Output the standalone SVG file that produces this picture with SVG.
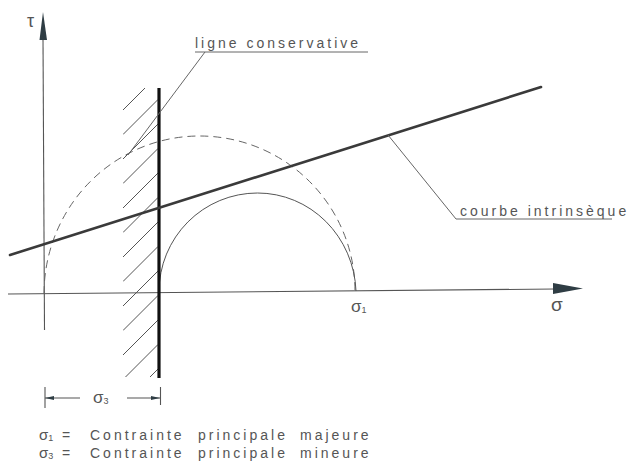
<svg xmlns="http://www.w3.org/2000/svg" width="636" height="464" viewBox="0 0 636 464">
<style>
  .ax{stroke:#555;stroke-width:1.1;fill:none}
  .hatch{stroke:#555;stroke-width:1;fill:none}
  .lead{stroke:#666;stroke-width:1;fill:none}
  .t{font-family:"Liberation Sans",Arial,sans-serif;font-size:14px;fill:#555;letter-spacing:3px}
  .g{font-family:"Liberation Sans",Arial,sans-serif;fill:#555}
  .head{fill:#2f3d44}
</style>
<defs>
  <clipPath id="hc"><rect x="123" y="88" width="35.5" height="289"/></clipPath>
</defs>
<rect width="636" height="464" fill="#fff"/>

<g id="axes">
  <line class="ax" x1="43" y1="38" x2="44.5" y2="330"/>
  <polygon class="head" points="43,12 39.5,40 47,40"/>
  <text class="g" x="27" y="27" font-size="18">τ</text>
  <line class="ax" x1="8" y1="294" x2="555" y2="289"/>
  <polygon class="head" points="553,283 583,288.5 553,294"/>
  <text class="g" x="551" y="311" font-size="19">σ</text>
  <text class="g" x="351" y="312" font-size="17">σ<tspan font-size="9" dy="1">1</tspan></text>
</g>

<g id="hatching" clip-path="url(#hc)">
  <line class="hatch" x1="123" y1="110" x2="158" y2="75"/>
  <line class="hatch" x1="123" y1="134.5" x2="158" y2="99.5"/>
  <line class="hatch" x1="123" y1="159" x2="158" y2="124"/>
  <line class="hatch" x1="123" y1="183.5" x2="158" y2="148.5"/>
  <line class="hatch" x1="123" y1="208" x2="158" y2="173"/>
  <line class="hatch" x1="123" y1="232.5" x2="158" y2="197.5"/>
  <line class="hatch" x1="123" y1="257" x2="158" y2="222"/>
  <line class="hatch" x1="123" y1="281.5" x2="158" y2="246.5"/>
  <line class="hatch" x1="123" y1="306" x2="158" y2="271"/>
  <line class="hatch" x1="123" y1="330.5" x2="158" y2="295.5"/>
  <line class="hatch" x1="123" y1="355" x2="158" y2="320"/>
  <line class="hatch" x1="123" y1="379.5" x2="158" y2="344.5"/>
  <line class="hatch" x1="123" y1="404" x2="158" y2="369"/>
</g>

<g id="circles">
  <path d="M44,294 A155.5,158 0 0 1 199.5,136 A155.5,155 0 0 1 355,291" fill="none" stroke="#666" stroke-width="1" stroke-dasharray="8,5"/>
  <path d="M159,292 A98.5,99 0 0 1 257.5,193 A98.5,102 0 0 1 356,291" fill="none" stroke="#555" stroke-width="1"/>
</g>

<g id="ligne-conservative">
  <line x1="159" y1="88" x2="159" y2="378" stroke="#111" stroke-width="3.2"/>
</g>

<g id="courbe-intrinseque">
  <line x1="10" y1="255" x2="541" y2="87" stroke="#3a3a3a" stroke-width="2.6" stroke-linecap="round"/>
</g>

<g id="connectors">
  <line class="lead" x1="205" y1="52" x2="128" y2="155"/>
  <line class="lead" x1="195" y1="52" x2="368" y2="52"/>
  <line class="lead" x1="388" y1="135" x2="456" y2="219"/>
  <line class="lead" x1="456" y1="219" x2="612" y2="219"/>
</g>

<g id="labels">
  <text class="t" x="195" y="48">ligne conservative</text>
  <text class="t" x="460" y="216">courbe intrinsèque</text>
</g>

<g id="dimension">
  <line class="ax" x1="45" y1="387" x2="45" y2="408"/>
  <line class="ax" x1="160.5" y1="387" x2="160.5" y2="405"/>
  <line class="ax" x1="45" y1="398" x2="80" y2="398"/>
  <line class="ax" x1="127" y1="398" x2="160" y2="398"/>
  <polygon class="head" points="45,398 54,396 54,400"/>
  <polygon class="head" points="160,398 151,396 151,400"/>
  <text class="g" x="93" y="403" font-size="17">σ<tspan font-size="9" dy="1">3</tspan></text>
</g>

<g id="legend">
  <text class="t" y="440"><tspan x="39" font-size="15" letter-spacing="0">σ</tspan><tspan font-size="9" dy="1" letter-spacing="0">1</tspan><tspan x="62" dy="-1">=</tspan><tspan x="90">Contrainte</tspan><tspan x="198">principale</tspan><tspan x="300">majeure</tspan></text>
  <text class="t" y="458"><tspan x="39" font-size="15" letter-spacing="0">σ</tspan><tspan font-size="9" dy="1" letter-spacing="0">3</tspan><tspan x="62" dy="-1">=</tspan><tspan x="90">Contrainte</tspan><tspan x="198">principale</tspan><tspan x="300">mineure</tspan></text>
</g>
</svg>
